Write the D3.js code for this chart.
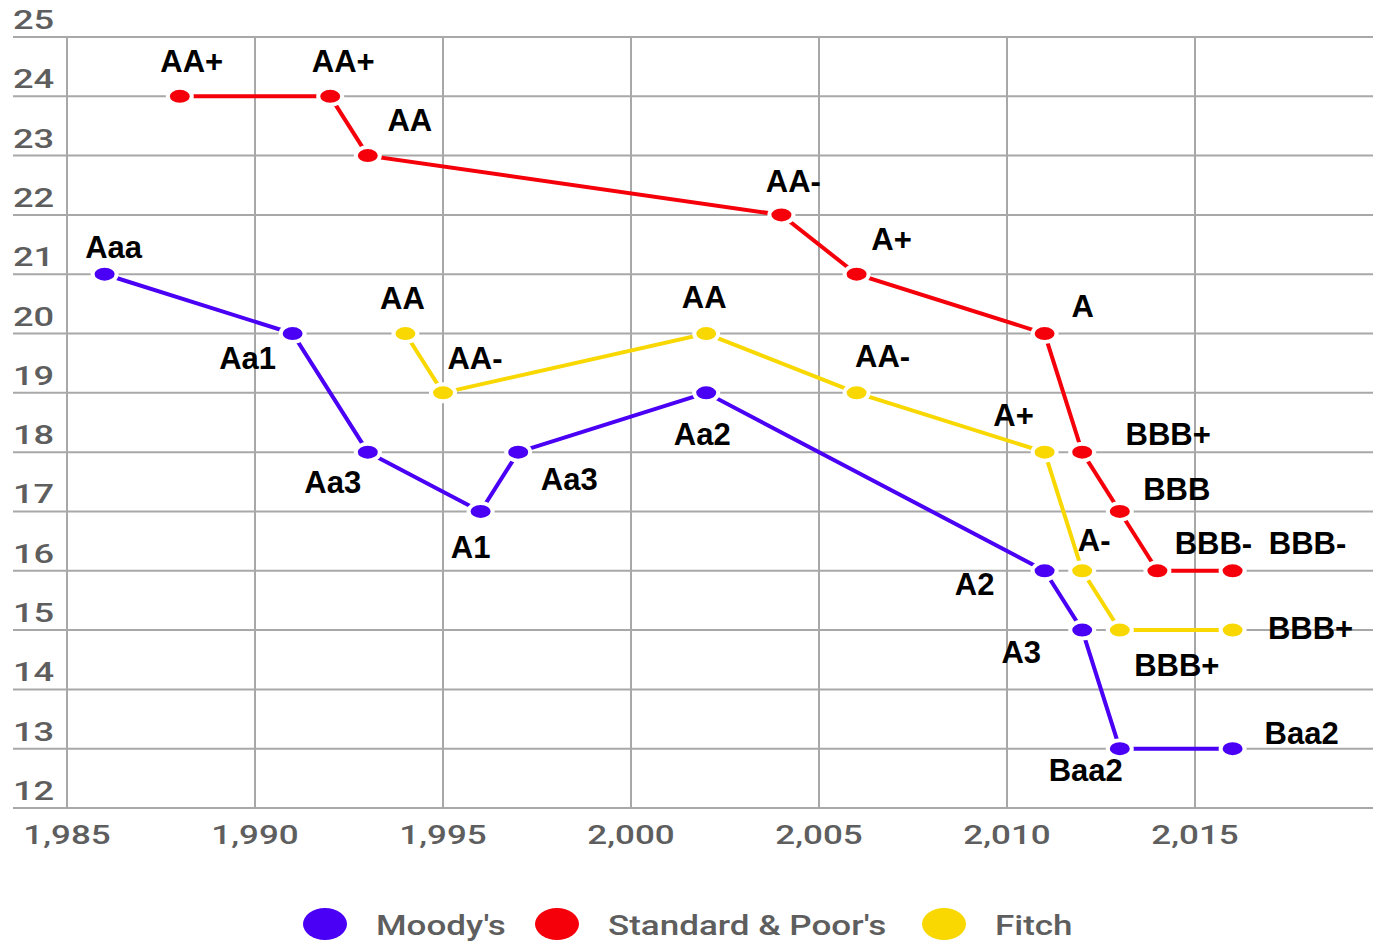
<!DOCTYPE html>
<html>
<head>
<meta charset="utf-8">
<style>
    body { margin: 0; background: #fff; }
    svg { display: block; }
    .tick-label { font-family: Roboto, sans-serif; font-weight: 500; font-size: 25px; fill: #5e5e5e; }
    .legend-label { font-family: Roboto, sans-serif; font-weight: 500; font-size: 28px; fill: #5e5e5e; }
    .rating { font-family: Arial, "Liberation Sans", sans-serif; font-weight: bold; font-size: 31px; fill: #000; }
</style>
</head>
<body>
<svg width="1373" height="941"></svg>

<script src="https://d3js.org/d3.v7.min.js"></script>
<script>
    // ratings data
    const moodysYears   = [1986, 1991, 1993, 1996, 1997, 2002, 2011, 2012, 2013, 2016];
    const moodysValues  = [21, 20, 18, 17, 18, 19, 16, 15, 13, 13];
    const moodysRatings = ["Aaa", "Aa1", "Aa3", "A1", "Aa3", "Aa2", "A2", "A3", "Baa2", "Baa2"];

    const spYears   = [1988, 1992, 1993, 2004, 2006, 2011, 2012, 2013, 2014, 2016];
    const spValues  = [24, 24, 23, 22, 21, 20, 18, 17, 16, 16];
    const spRatings = ["AA+", "AA+", "AA", "AA-", "A+", "A", "BBB+", "BBB", "BBB-", "BBB-"];

    const fitchYears   = [1994, 1995, 2002, 2006, 2011, 2012, 2013, 2016];
    const fitchValues  = [20, 19, 20, 19, 18, 16, 15, 15];
    const fitchRatings = ["AA", "AA-", "AA", "AA-", "A+", "A-", "BBB+", "BBB+"];

    const xTicks = [1985, 1990, 1995, 2000, 2005, 2010, 2015];
    const yTicks = [12, 13, 14, 15, 16, 17, 18, 19, 20, 21, 22, 23, 24, 25];

    // where each rating label sits relative to its point (layout only)
    const moodysLabelPos = [[9,-16],[-45,35],[-35,41],[-10,47],[51,38],[-4,52],[-70,24],[-61,33],[-34,32],[69,-5]];
    const spLabelPos     = [[12,-24],[13,-24],[42,-25],[12,-23],[35,-24],[38,-17],[86,-7],[57,-11],[56,-17],[75,-17]];
    const fitchLabelPos  = [[-3,-25],[32,-24],[-2,-26],[26,-26],[-31,-26],[12,-20],[57,46],[78,9]];

    const series = [
        {name: "Moody's", color: "#4a00f5", years: moodysYears, values: moodysValues, ratings: moodysRatings, pos: moodysLabelPos},
        {name: "Standard & Poor's", color: "#f5000a", years: spYears, values: spValues, ratings: spRatings, pos: spLabelPos},
        {name: "Fitch", color: "#f8d800", years: fitchYears, values: fitchValues, ratings: fitchRatings, pos: fitchLabelPos}
    ];

    let width = 1373;
    let height = 941;
    let svg = d3.select("svg");

    let x = d3.scaleLinear().domain([1985, 2020]).range([67, 67 + 35 * 37.6]);
    let y = d3.scaleLinear().domain([12, 25]).range([808, 37]);

    // grid
    let grid = svg.append("g").attr("class", "grid");
    grid.selectAll(".hline")
        .data(yTicks)
        .join("line")
        .attr("x1", 13).attr("x2", width)
        .attr("y1", d => y(d)).attr("y2", d => y(d))
        .style("stroke", "#a8a8a8").style("stroke-width", 2);

    grid.selectAll(".vline")
        .data(xTicks)
        .join("line")
        .attr("x1", d => x(d)).attr("x2", d => x(d))
        .attr("y1", y(25)).attr("y2", y(12))
        .style("stroke", "#a8a8a8").style("stroke-width", 2);

    // tick labels (stretched like the original)
    svg.append("g")
        .selectAll("text")
        .data(yTicks)
        .join("text")
        .attr("class", "tick-label")
        .attr("transform", d => `translate(13,${y(d) - 8}) scale(1.45,1)`)
        .text(d => d);

    svg.append("g")
        .selectAll("text")
        .data(xTicks)
        .join("text")
        .attr("class", "tick-label")
        .attr("text-anchor", "middle")
        .attr("transform", d => `translate(${x(d)},${y(12) + 36}) scale(1.4,1)`)
        .text(d => d3.format(",")(d));

    let line = d3.line()
        .x(d => x(d[0]))
        .y(d => y(d[1]));

    series.forEach(s => {
        let pts = s.years.map((yr, i) => [yr, s.values[i], s.ratings[i], s.pos[i]]);
        let g = svg.append("g");

        g.append("path")
            .attr("d", line(pts))
            .style("fill", "none")
            .style("stroke", s.color)
            .style("stroke-width", 4);

        g.selectAll("ellipse")
            .data(pts)
            .join("ellipse")
            .attr("cx", d => x(d[0]))
            .attr("cy", d => y(d[1]))
            .attr("rx", 12)
            .attr("ry", 8.5)
            .style("fill", s.color)
            .style("stroke", "#fff")
            .style("stroke-width", 4);
    });

    // rating labels on top
    series.forEach(s => {
        let pts = s.years.map((yr, i) => [yr, s.values[i], s.ratings[i], s.pos[i]]);
        svg.append("g")
            .selectAll("text")
            .data(pts)
            .join("text")
            .attr("class", "rating")
            .attr("text-anchor", "middle")
            .attr("x", d => x(d[0]) + d[3][0])
            .attr("y", d => y(d[1]) + d[3][1])
            .text(d => d[2]);
    });

    // legend
    let legendX = [325, 557, 944];
    let legend = svg.append("g")
        .selectAll("g")
        .data(series)
        .join("g")
        .attr("transform", (d, i) => `translate(${legendX[i]},924)`);

    legend.append("ellipse")
        .attr("rx", 22).attr("ry", 16)
        .style("fill", d => d.color);

    legend.append("text")
        .attr("class", "legend-label")
        .attr("transform", "translate(51,11) scale(1.25,1)")
        .text(d => d.name);
</script>
</body>
</html>
